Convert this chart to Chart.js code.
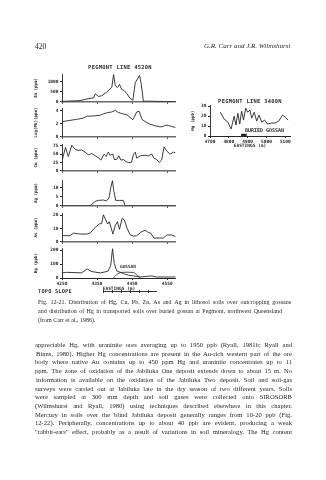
<!DOCTYPE html>
<html>
<head>
<meta charset="utf-8">
<script src="https://cdn.jsdelivr.net/npm/chart.js@4.4.1/dist/chart.umd.min.js"></script>
<style>
body { margin: 0; width: 326px; height: 480px; background: #fff; position: relative; overflow: hidden; color: #1c1c1c; font-family: "Liberation Serif", serif; }
canvas { position: absolute; }
.t, .j { position: absolute; white-space: nowrap; line-height: 1; will-change: transform; opacity: 0.99; }
.mono { font-family: "DejaVu Sans Mono", monospace; font-weight: bold; color: #2a2a2a; }
.topo { position: absolute; left: 103px; top: 290px; width: 54px; height: 3px;
  background: linear-gradient(#333, #333) 0 1px / 100% 1px no-repeat,
              repeating-linear-gradient(90deg, #333 0 1px, transparent 1px 9px); }
</style>
</head>
<body>

<script>
// ---- Pegmont line 4520N, eastings (m) and values ----
const E_ZN = [4251, 4301, 4330, 4340, 4345, 4354, 4363, 4378, 4387, 4392, 4397, 4402, 4408, 4414, 4420, 4427, 4435, 4444, 4452, 4459, 4471, 4476, 4482, 4501, 4520, 4573];
const ZN   = [20, 60, 170, 190, 400, 265, 300, 480, 640, 720, 1350, 800, 700, 860, 610, 560, 400, 170, 80, 950, 1300, 870, 30, 30, 20, 10];

const E_PB = [4251, 4273, 4292, 4301, 4311, 4321, 4330, 4345, 4359, 4368, 4380, 4392, 4402, 4408, 4420, 4435, 4444, 4452, 4463, 4470, 4478, 4487, 4501, 4516, 4530, 4539, 4544, 4554, 4563, 4573];
const LOG_PB = [2.35, 2.55, 2.7, 2.8, 2.9, 3.2, 3.2, 3.25, 3.35, 3.55, 3.75, 3.85, 4.1, 3.85, 3.6, 3.4, 3.0, 2.65, 3.85, 3.95, 2.7, 2.35, 1.95, 1.7, 1.55, 1.6, 1.8, 1.75, 1.6, 1.45];

const E_CU = [4251, 4260, 4268, 4278, 4287, 4297, 4306, 4316, 4325, 4335, 4345, 4354, 4361, 4370, 4376, 4382, 4387, 4395, 4399, 4406, 4412, 4418, 4425, 4433, 4440, 4448, 4454, 4459, 4463, 4473, 4487, 4496, 4506, 4512, 4520, 4527, 4534, 4541, 4549, 4558, 4568, 4573];
const CU   = [34, 70, 43, 77, 65, 61, 63, 56, 48, 52, 45, 39, 32, 50, 43, 56, 47, 50, 34, 34, 45, 32, 34, 27, 25, 25, 50, 56, 38, 45, 47, 45, 50, 38, 34, 25, 32, 72, 59, 50, 56, 54];

const E_AG = [4251, 4330, 4345, 4354, 4368, 4376, 4380, 4384, 4390, 4394, 4397, 4403, 4414, 4425, 4430, 4573];
const AG   = [0, 0, 2.5, 3, 3.2, 2.7, 3.3, 4.5, 11, 14, 9, 3, 3, 3, 0, 0];

const E_AS = [4251, 4273, 4283, 4301, 4321, 4330, 4345, 4357, 4363, 4368, 4375, 4380, 4385, 4390, 4395, 4402, 4408, 4414, 4421, 4428, 4435, 4444, 4454, 4463, 4478, 4487, 4496, 4503, 4512, 4530, 4539, 4549, 4563, 4573];
const AS   = [4.6, 4.6, 6.5, 5.8, 5.8, 6.5, 10.9, 13.5, 13.5, 20.2, 16.3, 13.3, 15, 10.5, 5.8, 12.3, 15, 9.3, 17.4, 16.3, 10.5, 5.3, 4.2, 4.6, 7.7, 8.6, 7, 6.5, 2.8, 2.8, 2.8, 5.1, 5.1, 4];

const E_HG = [4250, 4263, 4287, 4306, 4322, 4330, 4340, 4359, 4373, 4382, 4389, 4394, 4399, 4406, 4416, 4425, 4440, 4454, 4473, 4492, 4506, 4520, 4539, 4559, 4573];
const HG   = [37, 41, 39, 37, 66, 51, 44, 37, 44, 51, 93, 212, 105, 51, 41, 32, 20, 15, 7, 12, 15, 7, 7, 7, 8];

const E_GOSSAN = [4396, 4406, 4416, 4435, 4454, 4463, 4473];
const HG_GOSSAN = [0, 25, 40, 42, 40, 25, 0];

// ---- Pegmont line 3400N (transported soils) ----
const E_3400  = [4755, 4775, 4795, 4812, 4828, 4838, 4848, 4858, 4868, 4878, 4890, 4900, 4912, 4922, 4935, 4948, 4960, 4975, 4990, 5005, 5025, 5045, 5065, 5085, 5100, 5115];
const HG_3400 = [24, 17, 14, 7, 20, 11, 23, 12, 25, 16, 28, 24, 26, 18, 24, 15, 21, 14, 16, 12, 13, 13, 15, 21, 19, 16];
const E_BURIED = [4865, 4895];
const Y_BURIED = [1, 1];

// ---- tick labels ----
const X_TICKS_4520 = [4250, 4350, 4450, 4550];
const X_TICKS_3400 = [4700, 4800, 4900, 5000, 5100];
const Y_TICKS = {
    zn: [0, 500, 1000],
    pb: [0, 1, 2, 3, 4],
    cu: [0, 25, 50, 75],
    ag: [0, 5, 10],
    as: [0, 10, 20],
    hg: [0, 100, 200],
    hg3400: [0, 10, 20, 30]
};

const INK = '#262626';
const MONO = 'DejaVu Sans Mono';

function pts(xs, ys) {
    return xs.map((x, i) => ({ x: x, y: ys[i] }));
}

function panel(p) {
    const c = document.createElement('canvas');
    c.width = p.w; c.height = p.h;
    c.style.left = p.left + 'px';
    c.style.top = p.top + 'px';
    c.style.width = p.w + 'px';
    c.style.height = p.h + 'px';
    document.body.appendChild(c);

    const datasets = [{ data: pts(p.xs, p.ys), borderWidth: 0.9 }];
    if (p.extra) datasets.push(p.extra);

    const tickFont = { family: MONO, size: 4.5, weight: 'bold' };
    const plain = v => String(v);

    new Chart(c, {
        type: 'line',
        data: { datasets: datasets },
        options: {
            responsive: false,
            animation: false,
            devicePixelRatio: 1,
            layout: { padding: { top: 4, right: p.padRight || 0, left: 0, bottom: 0 } },
            plugins: { legend: { display: false }, tooltip: { enabled: false } },
            elements: {
                point: { radius: 0 },
                line: { borderColor: INK, tension: 0 }
            },
            scales: {
                x: {
                    type: 'linear',
                    min: p.xmin, max: p.xmax,
                    afterBuildTicks: s => { s.ticks = p.xticks.map(v => ({ value: v })); },
                    afterFit: s => { s.height = p.xh; },
                    border: { color: p.bottom ? INK : '#6a6a6a', width: p.bottom ? 1 : 1.4 },
                    grid: { display: p.bottom, drawOnChartArea: false, tickLength: 2, color: INK },
                    ticks: { display: p.bottom, font: tickFont, color: INK, padding: 1, maxRotation: 0, autoSkip: false, callback: plain },
                    title: { display: p.bottom, text: 'EASTINGS (m)', font: tickFont, color: INK, padding: { top: 0, bottom: 0.2 } }
                },
                y: {
                    min: 0, max: p.ymax,
                    afterBuildTicks: s => { s.ticks = p.yticks.map(v => ({ value: v })); },
                    afterFit: s => { s.width = p.yw; },
                    border: { color: INK, width: 0.9 },
                    grid: { drawOnChartArea: false, tickLength: 2, color: INK },
                    ticks: { font: tickFont, color: INK, padding: 1.5, callback: plain },
                    title: { display: true, text: p.label, font: { family: MONO, size: 4.2, weight: 'bold' }, color: INK, padding: { top: p.titlePad, bottom: 0 } }
                }
            }
        }
    });
}

const L = { left: 30, w: 146, yw: 32, xmin: 4250, xmax: 4575, xticks: X_TICKS_4520, titlePad: 3.8 };

panel(Object.assign({}, L, { top: 70,  h: 36, xh: 2, xs: E_ZN, ys: ZN,     ymax: 1364, yticks: Y_TICKS.zn, label: 'Zn (ppm)' }));
panel(Object.assign({}, L, { top: 104, h: 37, xh: 2, xs: E_PB, ys: LOG_PB, ymax: 4.43, yticks: Y_TICKS.pb, label: 'Log(Pb)(ppm)' }));
panel(Object.assign({}, L, { top: 140, h: 35, xh: 2, xs: E_CU, ys: CU,     ymax: 80,   yticks: Y_TICKS.cu, label: 'Cu (ppm)' }));
panel(Object.assign({}, L, { top: 176, h: 34, xh: 2, xs: E_AG, ys: AG,     ymax: 14.2, yticks: Y_TICKS.ag, label: 'Ag (ppm)' }));
panel(Object.assign({}, L, { top: 209, h: 37, xh: 2, xs: E_AS, ys: AS,     ymax: 21.4, yticks: Y_TICKS.as, label: 'As (ppm)' }));
panel(Object.assign({}, L, { top: 244, h: 48, xh: 14, bottom: true, xs: E_HG, ys: HG, ymax: 215, yticks: Y_TICKS.hg, label: 'Hg (ppb)',
    extra: { data: pts(E_GOSSAN, HG_GOSSAN), borderWidth: 0.8 } }));

panel({ left: 190, top: 101, w: 106, h: 48, yw: 20, xh: 13, padRight: 6, bottom: true,
    xmin: 4700, xmax: 5125, xticks: X_TICKS_3400, titlePad: 0.3,
    xs: E_3400, ys: HG_3400, ymax: 31, yticks: Y_TICKS.hg3400, label: 'Hg (ppb)',
    extra: { data: pts(E_BURIED, Y_BURIED), borderWidth: 2.5 } });
</script>

<div class="t" style="left:35px;top:43px;font-size:7.5px">420</div>
<div class="t" style="right:36px;top:43px;font-size:7px;font-style:italic">G.R. Carr and J.R. Wilmshurst</div>

<div class="t mono" style="left:120px;top:65px;font-size:5.4px;letter-spacing:0.3px;transform:translateX(-50%)">PEGMONT LINE 4520N</div>
<div class="t mono" style="left:250px;top:99px;font-size:5.4px;letter-spacing:0.3px;transform:translateX(-50%)">PEGMONT LINE 3400N</div>
<div class="t mono" style="left:120px;top:265px;font-size:4.4px">GOSSAN</div>
<div class="t mono" style="left:245px;top:127.5px;font-size:5px">BURIED GOSSAN</div>
<div class="t mono" style="left:38px;top:289px;font-size:5.3px;letter-spacing:0.2px">TOPO SLOPE</div>
<div class="topo"></div>

<div class="j" data-w="253" style="left:38px;top:299px;font-size:6px">Fig. 12-21. Distribution of Hg, Cu, Pb, Zn, As and Ag in lithosol soils over outcropping gossans</div>
<div class="j" data-w="244" style="left:38px;top:308px;font-size:6px">and distribution of Hg in transported soils over buried gossan at Pegmont, northwest Queensland</div>
<div class="t" style="left:38px;top:317px;font-size:6px">(from Carr et al., 1986).</div>

<div class="j" data-w="257" style="left:35px;top:342px;font-size:6.6px">appreciable Hg, with uraninite ores averaging up to 1950 ppb (Ryall, 1981b; Ryall and</div>
<div class="j" data-w="256" style="left:36px;top:350.7px;font-size:6.6px">Binns, 1980). Higher Hg concentrations are present in the Au-rich western part of the ore</div>
<div class="j" data-w="257" style="left:35px;top:359.4px;font-size:6.6px">body where native Au contains up to 450 ppm Hg and uraninite concentrates up to 11</div>
<div class="j" data-w="257" style="left:35px;top:368.1px;font-size:6.6px">ppm. The zone of oxidation of the Jabiluka One deposit extends down to about 15 m. No</div>
<div class="j" data-w="256" style="left:36px;top:376.8px;font-size:6.6px">information is available on the oxidation of the Jabiluka Two deposit. Soil and soil-gas</div>
<div class="j" data-w="257" style="left:35px;top:385.5px;font-size:6.6px">surveys were carried out at Jabiluka late in the dry season of two different years. Soils</div>
<div class="j" data-w="257" style="left:35px;top:394.2px;font-size:6.6px">were sampled at 300 mm depth and soil gases were collected onto SIROSORB</div>
<div class="j" data-w="257" style="left:35px;top:402.9px;font-size:6.6px">(Wilmshurst and Ryall, 1980) using techniques described elsewhere in this chapter.</div>
<div class="j" data-w="257" style="left:35px;top:411.6px;font-size:6.6px">Mercury in soils over the blind Jabiluka deposit generally ranges from 10-20 ppb (Fig.</div>
<div class="j" data-w="257" style="left:35px;top:420.3px;font-size:6.6px">12-22). Peripherally, concentrations up to about 40 ppb are evident, producing a weak</div>
<div class="j" data-w="257" style="left:35px;top:429px;font-size:6.6px">"rabbit-ears" effect, probably as a result of variations in soil mineralogy. The Hg content</div>

<script>
// stretch each justified line to its measured width
document.querySelectorAll('.j').forEach(el => {
    const target = +el.dataset.w;
    const w = el.getBoundingClientRect().width;
    const gaps = (el.textContent.match(/ /g) || []).length;
    if (gaps) el.style.wordSpacing = ((target - w) / gaps) + 'px';
});
</script>
</body>
</html>
